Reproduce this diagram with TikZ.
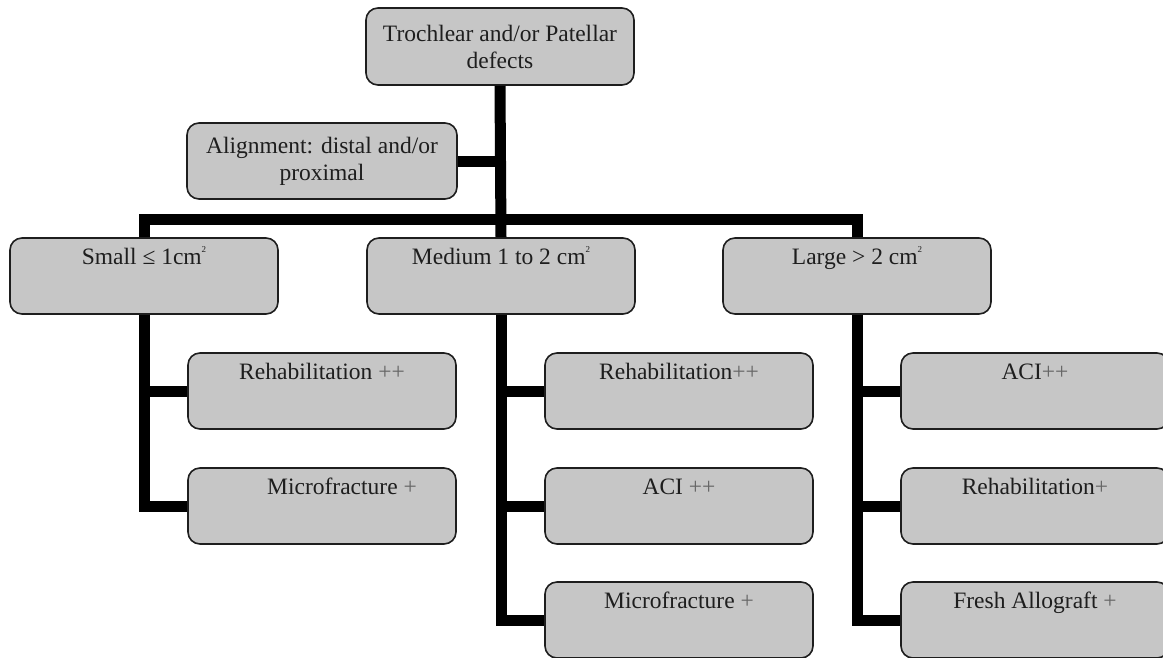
\documentclass[tikz,border=0pt]{standalone}
\usepackage{fontspec}
\setmainfont{Liberation Serif}
\usetikzlibrary{calc}
\definecolor{boxgray}{HTML}{C6C6C6}
\definecolor{ink}{HTML}{1E1E1E}
\newcommand{\grayplus}[1]{\textcolor{black!60}{#1}}
\newcommand{\sqr}{\raisebox{0.5em}{\fontsize{9}{9}\selectfont 2}}
\begin{document}
\begin{tikzpicture}[x=1pt,y=-1pt,
    font=\fontsize{23.5}{27}\selectfont,
    box/.style={draw=ink,fill=boxgray,line width=1.6pt,rounded corners=12pt,
      minimum width=268pt,text=ink,inner sep=0pt,
      text height=16pt,text depth=40pt,inner ysep=10pt},
    twobox/.style={draw=ink,fill=boxgray,line width=1.6pt,rounded corners=12pt,
      minimum width=268pt,minimum height=77pt,text=ink,align=center,inner sep=0pt},
    conn/.style={line width=11pt,line join=miter}]
    \useasboundingbox(0,0)rectangle(1163,657);
    \node[twobox](top)at(500,46.5){Trochlear and/or Patellar\\defects};
    \node[twobox,minimum width=270pt,minimum height=76pt](align)at(322,161){Alignment: distal and/or\\proximal};
    \node[box](small)at(144,276){Small ≤ 1cm\sqr};
    \node[box](medium)at(501,276){Medium 1 to 2 cm\sqr};
    \node[box](large)at(857,276){Large > 2 cm\sqr};
    \node[box](s1)at(322,391){Rehabilitation \grayplus{++}};
    \node[box](s2)at(322,506){\hspace*{40pt}Microfracture \grayplus{+}};
    \node[box](m1)at(679,391){Rehabilitation\grayplus{++}};
    \node[box](m2)at(679,506){ACI \grayplus{++}};
    \node[box](m3)at(679,620){Microfracture \grayplus{+}};
    \node[box](l1)at(1035,391){ACI\grayplus{++}};
    \node[box](l2)at(1035,506){Rehabilitation\grayplus{+}};
    \node[box](l3)at(1035,620){Fresh Allograft \grayplus{+}};
    \coordinate(hbar)at(500,219);
    \draw[conn](top.south)--(medium.north);
    \draw[conn](align.east)--(align.east-|medium.north);
    \draw[conn](small.north)--(small.north|-hbar)--(large.north|-hbar)--(large.north);
    \foreach \p/\c in {small/s1,small/s2,medium/m1,medium/m2,medium/m3,large/l1,large/l2,large/l3}
      \draw[conn](\p.south)|-(\c.west);
  \end{tikzpicture}
\end{document}
